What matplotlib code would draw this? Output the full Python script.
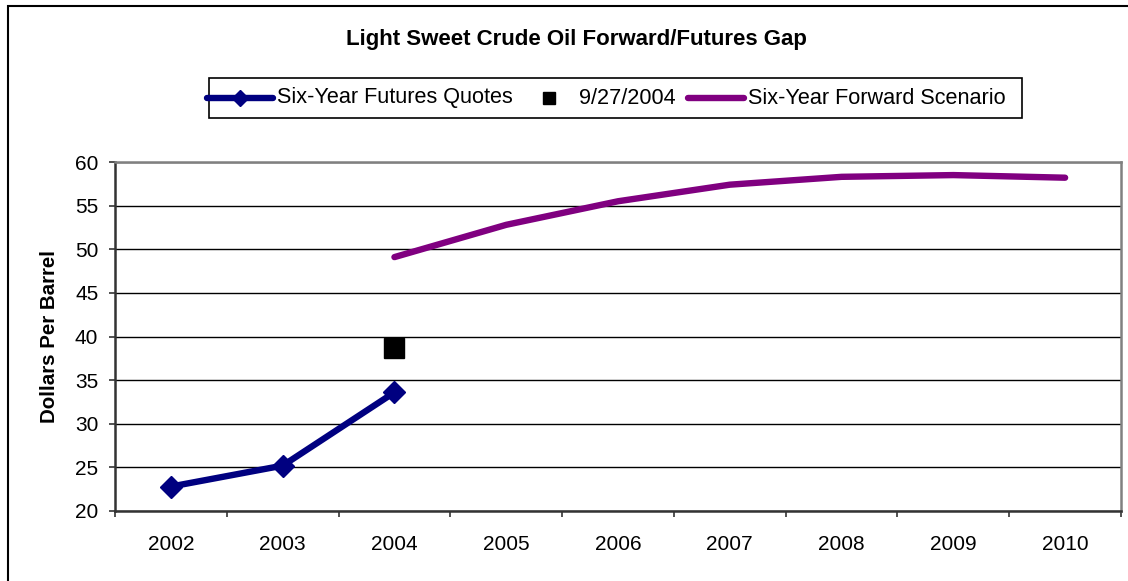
import numpy as np
import matplotlib.pyplot as plt
from matplotlib.lines import Line2D
from matplotlib.patches import Rectangle

plt.rcParams['font.family'] = ['Liberation Sans', 'DejaVu Sans']

years = ['2002', '2003', '2004', '2005', '2006', '2007', '2008', '2009', '2010']
futures = [22.8, 25.2, 33.6]
spot_label = '9/27/2004'
spot_price = 38.7
forward = [49.1, 52.8, 55.5, 57.4, 58.3, 58.5, 58.2]
labels = ['Six-Year Futures Quotes', spot_label, 'Six-Year Forward Scenario']

navy = '#000080'
purple = '#800080'

W, H = 1128, 581
fig = plt.figure(figsize=(W / 100, H / 100), dpi=100)
ax = fig.add_axes([115 / W, 1 - 511 / H, 1006 / W, 349 / H])

x = np.arange(len(years))
ax.plot(x[:3], futures, color=navy, lw=4.6, marker='D', ms=11.5, mec=navy, mfc=navy,
        solid_capstyle='round', zorder=3)
ax.plot([2], [spot_price], ls='none', marker='s', ms=14, color='black', zorder=3)
ax.plot(x[2:], forward, color=purple, lw=4.6, solid_capstyle='round', zorder=3)

ax.set_xlim(-0.5, len(years) - 0.5)
ax.set_ylim(20, 60)
ax.set_yticks(np.arange(20, 61, 5))
ax.set_xticks(x)
ax.set_xticklabels(years)
ax.set_xticks(np.arange(-0.5, len(years), 1), minor=True)
ax.tick_params(axis='x', which='major', length=0, pad=17, labelsize=15)
ax.tick_params(axis='x', which='minor', length=4, width=1.2, direction='out', color='#333333')
ax.tick_params(axis='y', length=4, width=1.2, direction='out', color='#333333', pad=8, labelsize=15)

ax.grid(axis='y', color='black', lw=1)
for s in ['top', 'right']:
    ax.spines[s].set_color('#808080')
    ax.spines[s].set_linewidth(1.8)
for s in ['left', 'bottom']:
    ax.spines[s].set_color('#333333')
    ax.spines[s].set_linewidth(1.8)

ax.set_ylabel('Dollars Per Barrel', fontsize=14.8, fontweight='bold', va='center')
ax.yaxis.set_label_coords((50 - 115) / 1006, 0.5)

fig.text(576 / W, 1 - 40 / H, 'Light Sweet Crude Oil Forward/Futures Gap',
         ha='center', va='center', fontsize=16, fontweight='bold')

# legend drawn by hand to follow the spreadsheet layout
def fx(px):
    return px / W

ly = 1 - 98 / H
fig.patches.append(Rectangle((fx(209), 1 - 118 / H), fx(1022 - 209), 40 / H,
                             transform=fig.transFigure, fill=False, edgecolor='black', lw=1.2))
fig.lines.append(Line2D([fx(207), fx(273)], [ly, ly], transform=fig.transFigure,
                        color=navy, lw=4.6, solid_capstyle='round'))
fig.lines.append(Line2D([fx(240)], [ly], transform=fig.transFigure, ls='none',
                        marker='D', ms=8, color=navy))
fig.lines.append(Line2D([fx(549)], [ly], transform=fig.transFigure, ls='none',
                        marker='s', ms=8.5, color='black'))
fig.lines.append(Line2D([fx(688), fx(744)], [ly, ly], transform=fig.transFigure,
                        color=purple, lw=4.6, solid_capstyle='round'))
for px, txt in zip([277, 579, 748], labels):
    fig.text(fx(px), ly, txt, ha='left', va='center', fontsize=15.6)

fig.patches.append(Rectangle((8 / W, -0.1), 2, 1.1 - 6 / H, transform=fig.transFigure,
                             fill=False, edgecolor='black', lw=1.5))

fig.savefig('out.png', dpi=100)
